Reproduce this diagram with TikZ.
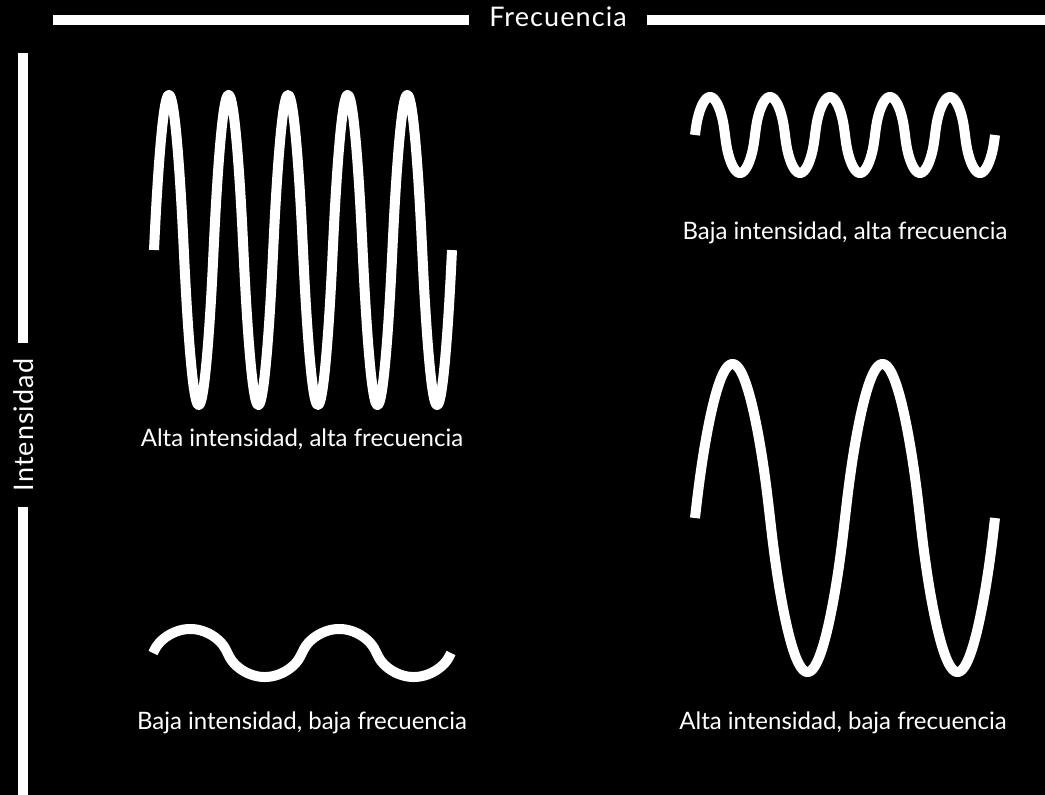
\documentclass[tikz,border=0pt]{standalone}
\usepackage{fontspec}
\setmainfont{Lato}
\usetikzlibrary{calc}

\begin{document}
\begin{tikzpicture}[x=1pt, y=-1pt, font=\fontsize{24}{28}\selectfont,
		every node/.style={text=white, inner sep=0},
		wave/.style={draw=white, line width=10, line join=round},
		axis/.style={draw=white, line width=10},
		axislabel/.style={font=\fontsize{27}{32}\selectfont\addfontfeature{LetterSpace=4}, anchor=base},
		caption/.style={anchor=base}]
		\fill[black] (0,0) rectangle (1045,795);
		\useasboundingbox (0,0) rectangle (1045,795);
		% sine with rounder crests and steeper flanks
		\tikzset{declare function={wv(\t,\q,\e)=sin(\t)*pow((1+\e)/(pow(sin(\t),2)+\e),\q);}}
		% axes: frequency along the top, intensity down the left side
		\node[axislabel] (frec) at (558,27) {Frecuencia};
		\coordinate (fL) at (53,19.5);
		\coordinate (fR) at (1045,19.5);
		\draw[axis] (fL) -- ($(fL -| frec.west)+(-20,0)$);
		\draw[axis] ($(fR -| frec.east)+(20,0)$) -- (fR);
		\node[axislabel, rotate=90] (inten) at (33,425) {Intensidad};
		\coordinate (iT) at (22.5,53);
		\coordinate (iB) at (22.5,795);
		\draw[axis] (iT) -- ($(iT |- inten.east)+(0,-15)$);
		\draw[axis] ($(iB |- inten.west)+(0,15)$) -- (iB);
		% the four waves
		\draw[wave] plot[domain=154:452, samples=400] (\x, {250-155*wv(360/59.6*(\x-154),0.08,0.05)});
		\node[caption] (aiaf) at (302,446) {Alta intensidad, alta frecuencia};
		\draw[wave] plot[domain=695:995, samples=400] (\x, {135-38*wv(6*(\x-695),0.2,0.03)});
		\node[caption] (biaf) at (845,239) {Baja intensidad, alta frecuencia};
		\draw[wave] plot[domain=153:451, samples=400] (\x, {653-24*wv(360/149*(\x-153),0.2,0.03)});
		\node[caption] (bibf) at (302,729) {Baja intensidad, baja frecuencia};
		\draw[wave] plot[domain=695:995, samples=400] (\x, {518-154*wv(2.4*(\x-695),0.1,0.05)});
		\node[caption] (aibf) at (843,729) {Alta intensidad, baja frecuencia};
	\end{tikzpicture}
\end{document}
